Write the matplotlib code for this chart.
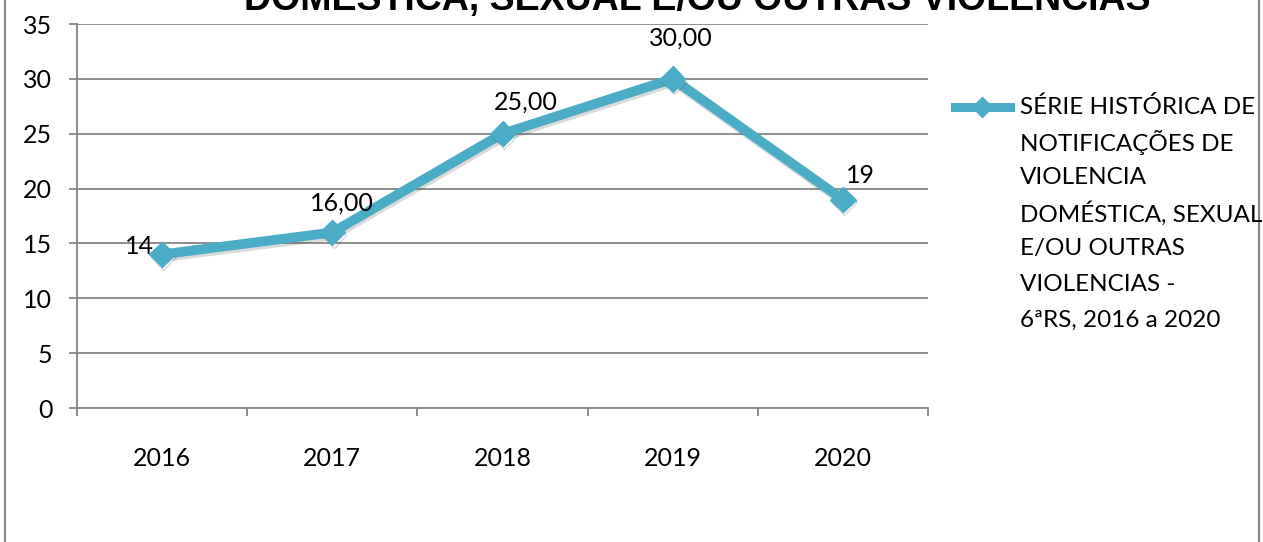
import matplotlib.pyplot as plt
import matplotlib.patheffects as pe
from matplotlib.lines import Line2D

# dados
anos = ["2016", "2017", "2018", "2019", "2020"]
notificacoes = [14, 16, 25, 30, 19]
rotulos = ["14", "16,00", "25,00", "30,00", "19"]
serie = ["SÉRIE HISTÓRICA DE", "NOTIFICAÇÕES DE", "VIOLENCIA",
         "DOMÉSTICA, SEXUAL", "E/OU OUTRAS", "VIOLENCIAS -", "6ªRS, 2016 a 2020"]
titulo = ("SÉRIE HISTÓRICA DE NOTIFICAÇÕES DE VIOLENCIA\n"
          "DOMÉSTICA, SEXUAL E/OU OUTRAS VIOLENCIAS")

# deslocamento dos rotulos (pixels)
desloc = [(-8, 8), (10, 29), (23, 32), (8, 41), (18, 24)]
alin = ["right", "center", "center", "center", "center"]

plt.rcParams['font.family'] = ['Lato', 'DejaVu Sans']
cor = '#4BACC6'
cinza = '#868686'
W, H = 1263, 542

fig = plt.figure(figsize=(W / 100, H / 100), dpi=100)
ax = fig.add_axes([77 / W, 1 - 408 / H, (928 - 77) / W, (408 - 24) / H])

x = list(range(len(anos)))
ax.plot(x, notificacoes, color=cor, lw=7, marker='D', ms=13,
        path_effects=[pe.SimpleLineShadow(offset=(1, -2), shadow_color='#333333', alpha=0.18),
                      pe.Normal()], zorder=3)

for i in range(len(x)):
    ax.annotate(rotulos[i], (x[i], notificacoes[i]), xytext=desloc[i],
                textcoords='offset pixels', ha=alin[i], va='center',
                fontsize=18, color='black')

ax.set_xlim(-0.5, 4.5)
ax.set_ylim(0, 35)
ax.set_yticks(range(0, 36, 5))
ax.set_xticks(x)
ax.set_xticklabels(anos)
ax.set_xticks([i - 0.5 for i in range(len(anos) + 1)], minor=True)
ax.yaxis.grid(True, color=cinza, lw=1.3)
ax.set_axisbelow(True)
for s in ['top', 'right']:
    ax.spines[s].set_visible(False)
for s in ['left', 'bottom']:
    ax.spines[s].set_color(cinza)
    ax.spines[s].set_linewidth(1.3)
ax.tick_params(axis='y', length=5.8, width=1.3, color=cinza, pad=12, labelsize=18)
ax.tick_params(axis='x', which='major', length=0, pad=28, labelsize=18)
ax.tick_params(axis='x', which='minor', length=5.8, width=1.3, color=cinza)

# titulo cortado no topo
fig.text(697 / W, 1 - 10 / H, titulo, ha='center', va='baseline',
         fontsize=27, fontweight='heavy', family='Liberation Sans', linespacing=1.1)

# legenda
ly = 1 - 107 / H
fig.add_artist(Line2D([955 / W, 1010 / W], [ly, ly], color=cor, lw=6.5))
fig.add_artist(Line2D([982 / W], [ly], color=cor, marker='D', ms=10, lw=0))
for k, linha in enumerate(serie):
    fig.text(1020 / W, 1 - (107 + 35.5 * k) / H, linha, ha='left', va='center',
             fontsize=17.5)

# moldura
fig.add_artist(Line2D([5 / W, 5 / W], [0, 1], color=cinza, lw=1.5))
fig.add_artist(Line2D([1259 / W, 1259 / W], [0, 1], color=cinza, lw=1.5))

plt.savefig('out.png', dpi=100)
